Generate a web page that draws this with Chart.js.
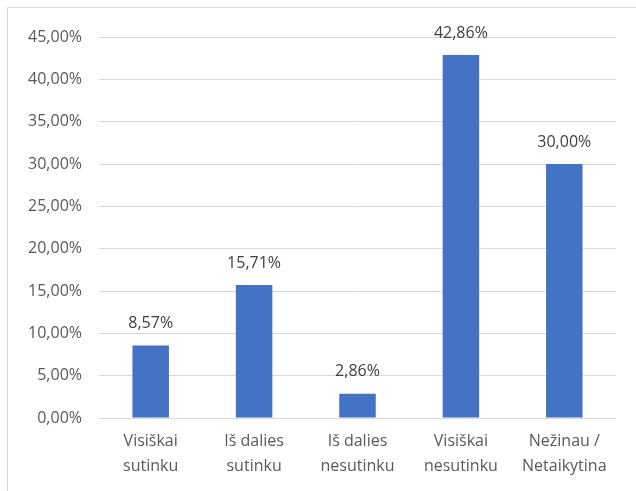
<!DOCTYPE html>
<html lang="lt">
<head>
  <meta charset="UTF-8">
  <title>Atsakymų pasiskirstymas</title>
  <script src="https://cdn.jsdelivr.net/npm/chart.js"></script>
  <style>
    body { margin: 0; background: white; }
    .wrap { position: relative; width: 636px; height: 491px; overflow: hidden; }
    .frame { position: absolute; left: 7px; top: 7px; width: 700px; height: 600px; border: 1px solid #d9d9d9; }
    canvas { position: absolute; left: 0; top: 0; }
  </style>
</head>
<body>
  <div class="wrap">
    <div class="frame"></div>
    <canvas id="grafikas" width="636" height="491"></canvas>
  </div>

  <script>
    const kategorijos = [
      ["Visiškai", "sutinku"],
      ["Iš dalies", "sutinku"],
      ["Iš dalies", "nesutinku"],
      ["Visiškai", "nesutinku"],
      ["Nežinau /", "Netaikytina"]
    ];
    const reiksmes = [8.57, 15.71, 2.86, 42.86, 30.00];

    const formatas = v => v.toFixed(2).replace(".", ",") + "%";
    const sriftas = "'Open Sans', 'Noto Sans', sans-serif";

    const etiketes = {
      id: "etiketes",
      afterDatasetsDraw(chart) {
        const ctx = chart.ctx;
        const meta = chart.getDatasetMeta(0);
        ctx.save();
        ctx.font = "16px " + sriftas;
        ctx.fillStyle = "#404040";
        ctx.textAlign = "center";
        ctx.textBaseline = "middle";
        meta.data.forEach((bar, i) => {
          ctx.fillText(formatas(reiksmes[i]), bar.x, bar.y - 22);
        });
        ctx.restore();
      }
    };

    new Chart(document.getElementById("grafikas"), {
      type: "bar",
      data: {
        labels: kategorijos,
        datasets: [{
          data: reiksmes,
          backgroundColor: "#4472c4",
          barPercentage: 0.353,
          categoryPercentage: 1
        }]
      },
      options: {
        responsive: false,
        animation: false,
        layout: { padding: { top: 37, right: 20, left: 0, bottom: 0 } },
        plugins: { legend: { display: false }, tooltip: { enabled: false } },
        scales: {
          x: {
            grid: { display: false, drawTicks: false },
            border: { display: false },
            ticks: {
              color: "#595959",
              padding: 11,
              font: { family: sriftas, size: 16, lineHeight: 1.5625 }
            },
            afterFit: s => { s.height = 73; }
          },
          y: {
            min: 0, max: 45,
            grid: { color: "#d9d9d9", drawTicks: false },
            border: { display: false },
            ticks: {
              stepSize: 5,
              color: "#595959",
              padding: 17,
              font: { family: sriftas, size: 16 },
              callback: v => formatas(v)
            },
            afterFit: s => { s.width = 99; }
          }
        }
      },
      plugins: [etiketes]
    });
  </script>
</body>
</html>
